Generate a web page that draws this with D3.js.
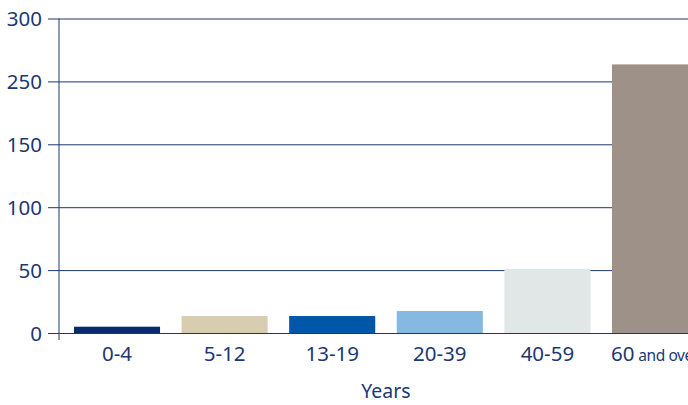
<!DOCTYPE html>
<html>
<head>
<meta charset="utf-8">
<script src="https://cdn.jsdelivr.net/npm/d3@7"></script>
<style>
  html, body { margin: 0; padding: 0; background: #fff; }
</style>
</head>
<body>
<svg id="chart" width="688" height="405"></svg>
<script>
// Age groups and counts
const categories = ["0-4", "5-12", "13-19", "20-39", "40-59", "60"];
const categorySuffix = ["", "", "", "", "", " and over"];
const values = [5, 13.5, 13.5, 17.5, 51, 263.5];
const barColors = ["#0b2a6c", "#d8cdb1", "#0057a8", "#86b9e1", "#e1e6e6", "#9e9188"];
const tickValues = [0, 50, 100, 150, 250, 300];
const tickLabels = ["0", "50", "100", "150", "250", "300"];
const axisTitle = "Years";

const ink = "#1c3773";
const font = "'Noto Sans', 'Open Sans', sans-serif";
const svg = d3.select("#chart").attr("font-family", font);

const plotLeft = 59, plotRight = 688;
const yBottom = 333, yTop = 18.5;

// Gridlines are evenly spaced, so the value scale is piecewise through the tick values
const step = (yBottom - yTop) / (tickValues.length - 1);
const y = d3.scaleLinear()
  .domain(tickValues)
  .range(tickValues.map((_, i) => yBottom - i * step));

const x = d3.scaleBand()
  .domain(categories)
  .range([63.2, 708.8])
  .paddingInner(0.2)
  .paddingOuter(0.1);

// Gridlines with outward tick stubs
const yAxis = d3.axisLeft(y)
  .tickValues(tickValues)
  .tickFormat((d, i) => tickLabels[i])
  .tickSize(-(plotRight - plotLeft))
  .tickPadding(17);

const gy = svg.append("g")
  .attr("transform", `translate(${plotLeft},0)`)
  .call(yAxis)
  .attr("font-family", font);
gy.select(".domain").remove();
gy.selectAll(".tick line")
  .attr("x1", -11)
  .attr("stroke", ink)
  .attr("stroke-width", 1);
gy.selectAll(".tick text")
  .attr("fill", ink)
  .attr("font-size", 20.5)
  .attr("x", -17)
  .attr("dy", "0.35em");

// Vertical axis line
svg.append("line")
  .attr("x1", plotLeft).attr("x2", plotLeft)
  .attr("y1", y(300)).attr("y2", yBottom + 7)
  .attr("stroke", ink)
  .attr("stroke-width", 1);

// Bars
svg.append("g").selectAll("rect")
  .data(categories)
  .join("rect")
  .attr("x", d => x(d))
  .attr("width", x.bandwidth())
  .attr("y", (d, i) => y(values[i]))
  .attr("height", (d, i) => y(0) - y(values[i]))
  .attr("fill", (d, i) => barColors[i]);

// Category labels
const labels = svg.append("g").selectAll("text")
  .data(categories)
  .join("text")
  .attr("x", d => x(d) + x.bandwidth() / 2)
  .attr("y", 361)
  .attr("text-anchor", "middle")
  .attr("fill", ink)
  .attr("font-size", 20.5);
labels.append("tspan").text(d => d);
labels.append("tspan")
  .attr("font-size", 15.5)
  .attr("letter-spacing", -0.4)
  .text((d, i) => categorySuffix[i]);

// Axis title
svg.append("text")
  .attr("x", 386)
  .attr("y", 398)
  .attr("text-anchor", "middle")
  .attr("fill", ink)
  .attr("font-size", 19.5)
  .text(axisTitle);
</script>
</body>
</html>
